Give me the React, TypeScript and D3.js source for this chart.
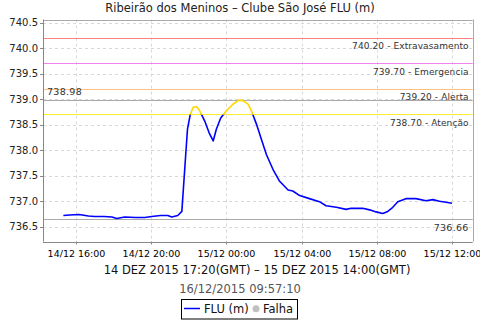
import React from "react";
import * as d3 from "d3";

const W = 480, H = 320;
const M = { left: 43, right: 7.3, top: 19.5, bottom: 78.5 };

const times: string[] = [
  "2015-12-14 15:20","2015-12-14 15:40","2015-12-14 16:10","2015-12-14 16:40","2015-12-14 17:00",
  "2015-12-14 17:30","2015-12-14 17:55","2015-12-14 18:10","2015-12-14 18:36","2015-12-14 19:10",
  "2015-12-14 19:40","2015-12-14 20:02","2015-12-14 20:30","2015-12-14 20:53","2015-12-14 21:06",
  "2015-12-14 21:25","2015-12-14 21:38","2015-12-14 21:50","2015-12-14 21:56","2015-12-14 22:05",
  "2015-12-14 22:14","2015-12-14 22:25","2015-12-14 22:35","2015-12-14 22:51","2015-12-14 23:05",
  "2015-12-14 23:18","2015-12-14 23:28","2015-12-14 23:42","2015-12-15 00:00","2015-12-15 00:21",
  "2015-12-15 00:40","2015-12-15 00:53","2015-12-15 01:09","2015-12-15 01:20","2015-12-15 01:36",
  "2015-12-15 01:52","2015-12-15 02:08","2015-12-15 02:29","2015-12-15 02:50","2015-12-15 03:17",
  "2015-12-15 03:32","2015-12-15 03:54","2015-12-15 04:25","2015-12-15 04:57","2015-12-15 05:18",
  "2015-12-15 05:51","2015-12-15 06:22","2015-12-15 06:38","2015-12-15 07:15","2015-12-15 07:37",
  "2015-12-15 07:58","2015-12-15 08:19","2015-12-15 08:35","2015-12-15 08:51","2015-12-15 09:07",
  "2015-12-15 09:33","2015-12-15 10:05","2015-12-15 10:37","2015-12-15 10:59","2015-12-15 11:20",
  "2015-12-15 11:41","2015-12-15 12:00"
];
const levels: number[] = [
  736.72, 736.73, 736.74, 736.71, 736.70,
  736.70, 736.69, 736.66, 736.69, 736.68,
  736.68, 736.70, 736.72, 736.72, 736.69,
  736.72, 736.80, 737.88, 738.41, 738.70,
  738.84, 738.85, 738.77, 738.57, 738.34,
  738.18, 738.41, 738.63, 738.77, 738.90,
  738.98, 738.97, 738.90, 738.77, 738.51,
  738.21, 737.91, 737.62, 737.39, 737.22,
  737.20, 737.11, 737.05, 736.99, 736.91,
  736.88, 736.84, 736.86, 736.86, 736.83,
  736.79, 736.76, 736.80, 736.88, 736.99,
  737.05, 737.05, 737.01, 737.03, 737.00,
  736.98, 736.96
];

const yTicks: number[] = [736.5, 737.0, 737.5, 738.0, 738.5, 739.0, 739.5, 740.0, 740.5];
const xTickTimes: string[] = ["2015-12-14 16:00","2015-12-14 20:00","2015-12-15 00:00","2015-12-15 04:00","2015-12-15 08:00","2015-12-15 12:00"];
const xTickLabels: string[] = ["14/12 16:00","14/12 20:00","15/12 00:00","15/12 04:00","15/12 08:00","15/12 12:00"];

const thresholdValues: number[] = [740.2, 739.7, 739.2, 738.7];
const thresholdLabels: string[] = ["740.20 - Extravasamento", "739.70 - Emergencia", "739.20 - Alerta", "738.70 - Atenção"];
const thresholdColors: string[] = ["#ff8080", "#ee82ee", "#ffc080", "#ffee30"];
const maxValue = 738.98;
const minValue = 736.66;

const title = "Ribeirão dos Meninos – Clube São José FLU (m)";
const xTitle = "14 DEZ 2015 17:20(GMT) – 15 DEZ 2015 14:00(GMT)";
const stamp = "16/12/2015 09:57:10";

const parse = d3.timeParse("%Y-%m-%d %H:%M");
const snap = (v: number) => Math.round(v) + 0.5;

export default function App() {
  const data = times.map((t, i) => ({ t: parse(t)!, v: levels[i] }));
  const x = d3.scaleTime()
    .domain([parse("2015-12-14 14:15")!, parse("2015-12-15 13:06")!])
    .range([M.left, W - M.right]);
  const y = d3.scaleLinear().domain([736.21, 740.56]).range([H - M.bottom, M.top]);
  const line = d3.line<{ t: Date; v: number }>().x(d => x(d.t)).y(d => y(d.v));
  const path = line(data) || "";
  const x0 = M.left, x1 = W - M.right, y0 = M.top, y1 = H - M.bottom;
  const yThr = y(thresholdValues[3]);
  const font = "DejaVu Sans, sans-serif";

  return (
    <svg width={W} height={H} style={{ position: "absolute", left: 0, top: 0 }} fontFamily={font}>
      <defs>
        <clipPath id="below"><rect x={x0} y={yThr} width={x1 - x0} height={y1 - yThr} /></clipPath>
        <clipPath id="above"><rect x={x0} y={y0} width={x1 - x0} height={yThr - y0} /></clipPath>
      </defs>
      <rect width={W} height={H} fill="#fff" />
      <text x={240} y={12} textAnchor="middle" fontSize={11.5} fill="#222">{title}</text>
      {yTicks.map(v => (
        <g key={"y" + v}>
          <line x1={x0} x2={x1} y1={snap(y(v))} y2={snap(y(v))} stroke="#d8d8d8" strokeDasharray="3,3" />
          <line x1={x0 - 3} x2={x0} y1={snap(y(v))} y2={snap(y(v))} stroke="#888" />
          <text x={x0 - 5} y={y(v) + 3.5} textAnchor="end" fontSize={10} fill="#222">{v.toFixed(1)}</text>
        </g>
      ))}
      {xTickTimes.map((t, i) => {
        const xx = snap(x(parse(t)!));
        return (
          <g key={"x" + t}>
            <line x1={xx} x2={xx} y1={y0} y2={y1} stroke="#d8d8d8" strokeDasharray="3,3" />
            <line x1={xx} x2={xx} y1={y1} y2={y1 + 3} stroke="#888" />
            <text x={xx} y={y1 + 15} textAnchor="middle" fontSize={9.5} fill="#000">{xTickLabels[i]}</text>
          </g>
        );
      })}
      {thresholdValues.map((v, i) => (
        <g key={"t" + v}>
          <line x1={x0} x2={x1} y1={snap(y(v))} y2={snap(y(v))} stroke={thresholdColors[i]} strokeWidth={1.2} />
          <text x={x1 - 4} y={y(v) + 11.5} textAnchor="end" fontSize={9} fill="#333" letterSpacing={0.1}>{thresholdLabels[i]}</text>
        </g>
      ))}
      <line x1={x0} x2={x1} y1={snap(y(maxValue))} y2={snap(y(maxValue))} stroke="#aaa" />
      <text x={x0 + 4} y={y(maxValue) - 5} fontSize={9.5} fill="#333" letterSpacing={0.3}>{maxValue.toFixed(2)}</text>
      <line x1={x0} x2={x1} y1={snap(y(minValue))} y2={snap(y(minValue))} stroke="#aaa" />
      <text x={x1 - 4} y={y(minValue) + 12} textAnchor="end" fontSize={9.5} fill="#333" letterSpacing={0.3}>{minValue.toFixed(2)}</text>
      <path d={path} fill="none" stroke="#0000ff" strokeWidth={1.6} strokeLinejoin="round" clipPath="url(#below)" />
      <path d={path} fill="none" stroke="#ffd700" strokeWidth={1.6} strokeLinejoin="round" clipPath="url(#above)" />
      <line x1={x0} x2={x1} y1={snap(y0)} y2={snap(y0)} stroke="#aaa" />
      <line x1={snap(x1)} x2={snap(x1)} y1={y0} y2={y1} stroke="#aaa" />
      <line x1={snap(x0)} x2={snap(x0)} y1={y0} y2={y1} stroke="#888" />
      <line x1={x0} x2={x1} y1={snap(y1)} y2={snap(y1)} stroke="#888" />
      <text x={257} y={273.5} textAnchor="middle" fontSize={11.5} fill="#111">{xTitle}</text>
      <text x={240} y={293} textAnchor="middle" fontSize={11.5} fill="#555">{stamp}</text>
      <rect x={181.5} y={299.5} width={116} height={19.5} fill="#fff" stroke="#000" />
      <line x1={184} x2={200} y1={308.5} y2={308.5} stroke="#0000ff" strokeWidth={1.5} />
      <text x={204} y={313} fontSize={11.5} fill="#111">FLU (m)</text>
      <circle cx={256} cy={308.7} r={3.5} fill="#c0c0c0" />
      <text x={263} y={313} fontSize={11.5} fill="#111">Falha</text>
    </svg>
  );
}
